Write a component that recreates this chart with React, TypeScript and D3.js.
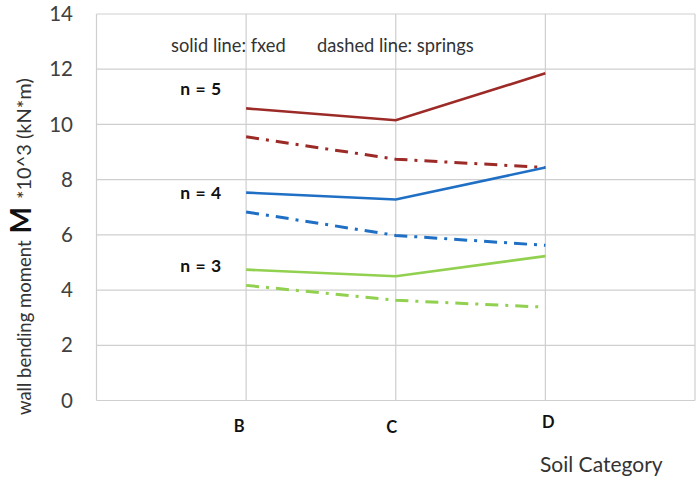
import React from "react";
import * as d3 from "d3";

const categories = ["B", "C", "D"];
const catPos = [1, 2, 3];
const yTicks = [0, 2, 4, 6, 8, 10, 12, 14];
const xGrid = [0, 1, 2, 3, 4];

const n5Fixed = [10.58, 10.15, 11.85];
const n5Springs = [9.55, 8.74, 8.44];
const n4Fixed = [7.53, 7.28, 8.44];
const n4Springs = [6.83, 5.98, 5.62];
const n3Fixed = [4.74, 4.5, 5.23];
const n3Springs = [4.17, 3.63, 3.38];

const seriesColors = ["#9c2b27", "#1f6fc5", "#92d050"];
const groupLabels = ["n = 5", "n = 4", "n = 3"];

const FONT = "Lato, 'Open Sans', sans-serif";

export default function App() {
  const W = 697;
  const H = 479;
  const x = d3.scaleLinear().domain([0, 4]).range([96.5, 695]);
  const y = d3.scaleLinear().domain([0, 14]).range([400.5, 14]);

  const line = d3
    .line<number>()
    .x((d, i) => x(catPos[i]))
    .y((d) => y(d));

  const series = [
    { vals: n5Fixed, color: seriesColors[0], dashed: false },
    { vals: n5Springs, color: seriesColors[0], dashed: true },
    { vals: n4Fixed, color: seriesColors[1], dashed: false },
    { vals: n4Springs, color: seriesColors[1], dashed: true },
    { vals: n3Fixed, color: seriesColors[2], dashed: false },
    { vals: n3Springs, color: seriesColors[2], dashed: true },
  ];

  // group labels sit left of B, roughly level with each fixed line
  const labelY = [n5Fixed[0] + 0.72, n4Fixed[0] - 0.01, n3Fixed[0] + 0.12];
  const catDx = [-7, -4, 3];
  const catDy = [0, 1, -4];

  return (
    <svg width={W} height={H} style={{ position: "absolute", left: 0, top: 0, background: "#fff" }}>
      {yTicks.map((t) => (
        <line key={"h" + t} x1={x(0)} x2={x(4)} y1={y(t)} y2={y(t)} stroke="#cfcfcf" strokeWidth={1.2} />
      ))}
      {xGrid.map((g) => (
        <line key={"v" + g} x1={x(g)} x2={x(g)} y1={y(0)} y2={y(14)} stroke="#cfcfcf" strokeWidth={1.2} />
      ))}
      {yTicks.map((t) => (
        <text key={"t" + t} x={73} y={y(t)} dy="0.35em" textAnchor="end" fontFamily={FONT} fontSize={20.5} fill="#404040">
          {t}
        </text>
      ))}

      {series.map((s, i) => (
        <path
          key={i}
          d={line(s.vals) || ""}
          fill="none"
          stroke={s.color}
          strokeWidth={s.dashed ? 3 : 2.6}
          strokeDasharray={s.dashed ? "13 7 3 7" : undefined}
        />
      ))}

      {groupLabels.map((l, i) => (
        <text key={l} x={201} y={y(labelY[i])} dy="0.35em" textAnchor="middle" fontFamily={FONT} fontWeight="bold" fontSize={17.5} letterSpacing={0.6} fill="#111">
          {l}
        </text>
      ))}

      <text x={171} y={46} dy="0.35em" fontFamily={FONT} fontSize={18.3} fill="#333">
        solid line: fxed
      </text>
      <text x={317} y={46} dy="0.35em" fontFamily={FONT} fontSize={18.3} fill="#333">
        dashed line: springs
      </text>

      {categories.map((c, i) => (
        <text key={c} x={x(catPos[i]) + catDx[i]} y={426 + catDy[i]} dy="0.35em" textAnchor="middle" fontFamily={FONT} fontWeight="bold" fontSize={16.5} fill="#111">
          {c}
        </text>
      ))}

      <text x={540} y={472} fontFamily={FONT} fontSize={21} fill="#333">
        Soil Category
      </text>

      <text transform="translate(31,415) rotate(-90)" fontFamily={FONT} fontSize={18.5} fill="#333">
        wall bending moment
        <tspan dx={7} fontWeight="bold" fontSize={28} fill="#111">M</tspan>
        <tspan dx={8} fontSize={20}>{"*10^3 (kN*m)"}</tspan>
      </text>
    </svg>
  );
}
